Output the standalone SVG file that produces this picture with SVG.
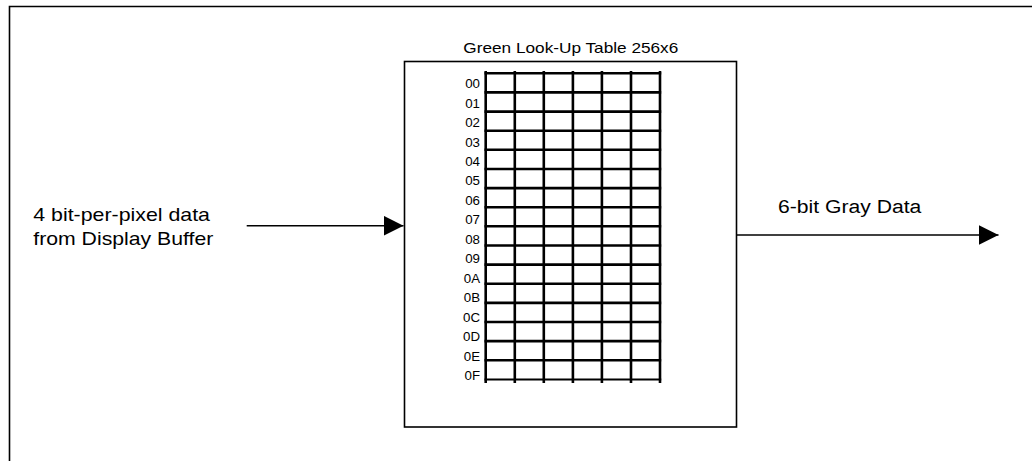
<svg xmlns="http://www.w3.org/2000/svg" width="1032" height="461" viewBox="0 0 1032 461">
<style>
text{font-family:"Liberation Sans",Arial,sans-serif;fill:#000}
.frame{fill:none;stroke:#000;stroke-width:1.6}
.grid line{stroke:#000;stroke-width:2.6}
.conn{stroke:#000;stroke-width:1.4;fill:none}
.lbl{font-size:12.3px;text-anchor:end}
</style>
<defs>
<marker id="ah" markerUnits="userSpaceOnUse" markerWidth="20" markerHeight="20" refX="20" refY="10" orient="auto">
<path d="M0,0 L20,10 L0,20 Z" fill="#000"/>
</marker>
</defs>
<rect x="0" y="0" width="1032" height="461" fill="#fff"/>
<g id="outer-frame">
<path class="frame" d="M9.5,470 L9.5,6.5 L1040,6.5"/>
</g>
<g id="lut-node">
<rect class="frame" x="404.5" y="61.5" width="332" height="365.5"/>
<text x="570.8" y="53.3" font-size="14.2" text-anchor="middle" textLength="215" lengthAdjust="spacingAndGlyphs">Green Look-Up Table 256x6</text>
<g class="grid">
<line x1="485.7" y1="71" x2="485.7" y2="383"/>
<line x1="514.8" y1="71" x2="514.8" y2="383"/>
<line x1="543.8" y1="71" x2="543.8" y2="383"/>
<line x1="572.9" y1="71" x2="572.9" y2="383"/>
<line x1="601.9" y1="71" x2="601.9" y2="383"/>
<line x1="631" y1="71" x2="631" y2="383"/>
<line x1="660" y1="71" x2="660" y2="383"/>
<line x1="484.5" y1="73.3" x2="661.2" y2="73.3"/>
<line x1="484.5" y1="92.4" x2="661.2" y2="92.4"/>
<line x1="484.5" y1="111.6" x2="661.2" y2="111.6"/>
<line x1="484.5" y1="130.7" x2="661.2" y2="130.7"/>
<line x1="484.5" y1="149.8" x2="661.2" y2="149.8"/>
<line x1="484.5" y1="169" x2="661.2" y2="169"/>
<line x1="484.5" y1="188.1" x2="661.2" y2="188.1"/>
<line x1="484.5" y1="207.2" x2="661.2" y2="207.2"/>
<line x1="484.5" y1="226.3" x2="661.2" y2="226.3"/>
<line x1="484.5" y1="245.5" x2="661.2" y2="245.5"/>
<line x1="484.5" y1="264.6" x2="661.2" y2="264.6"/>
<line x1="484.5" y1="283.7" x2="661.2" y2="283.7"/>
<line x1="484.5" y1="302.9" x2="661.2" y2="302.9"/>
<line x1="484.5" y1="322" x2="661.2" y2="322"/>
<line x1="484.5" y1="341.1" x2="661.2" y2="341.1"/>
<line x1="484.5" y1="360.2" x2="661.2" y2="360.2"/>
<line x1="484.5" y1="379.4" x2="661.2" y2="379.4" style="stroke-width:2"/>
</g>
<g transform="translate(480,0) scale(1.08,1)">
<text class="lbl" x="0" y="88.3">00</text>
<text class="lbl" x="0" y="107.7">01</text>
<text class="lbl" x="0" y="127.2">02</text>
<text class="lbl" x="0" y="146.6">03</text>
<text class="lbl" x="0" y="166.1">04</text>
<text class="lbl" x="0" y="185.5">05</text>
<text class="lbl" x="0" y="205">06</text>
<text class="lbl" x="0" y="224.4">07</text>
<text class="lbl" x="0" y="243.9">08</text>
<text class="lbl" x="0" y="263.3">09</text>
<text class="lbl" x="0" y="282.8">0A</text>
<text class="lbl" x="0" y="302.2">0B</text>
<text class="lbl" x="0" y="321.7">0C</text>
<text class="lbl" x="0" y="341.1">0D</text>
<text class="lbl" x="0" y="360.6">0E</text>
<text class="lbl" x="0" y="380">0F</text>
</g>
</g>
<g id="input-label">
<text x="33.3" y="221" font-size="17.8" textLength="176.7" lengthAdjust="spacingAndGlyphs">4 bit-per-pixel data</text>
<text x="33.3" y="245" font-size="17.8" textLength="180" lengthAdjust="spacingAndGlyphs">from Display Buffer</text>
</g>
<g id="output-label">
<text x="778" y="213" font-size="17.6" textLength="143.3" lengthAdjust="spacingAndGlyphs">6-bit Gray Data</text>
</g>
<g id="connectors">
<line class="conn" x1="246.7" y1="225.7" x2="403.5" y2="225.7" marker-end="url(#ah)"/>
<line class="conn" x1="737" y1="235" x2="998.5" y2="235" marker-end="url(#ah)"/>
</g>
</svg>
